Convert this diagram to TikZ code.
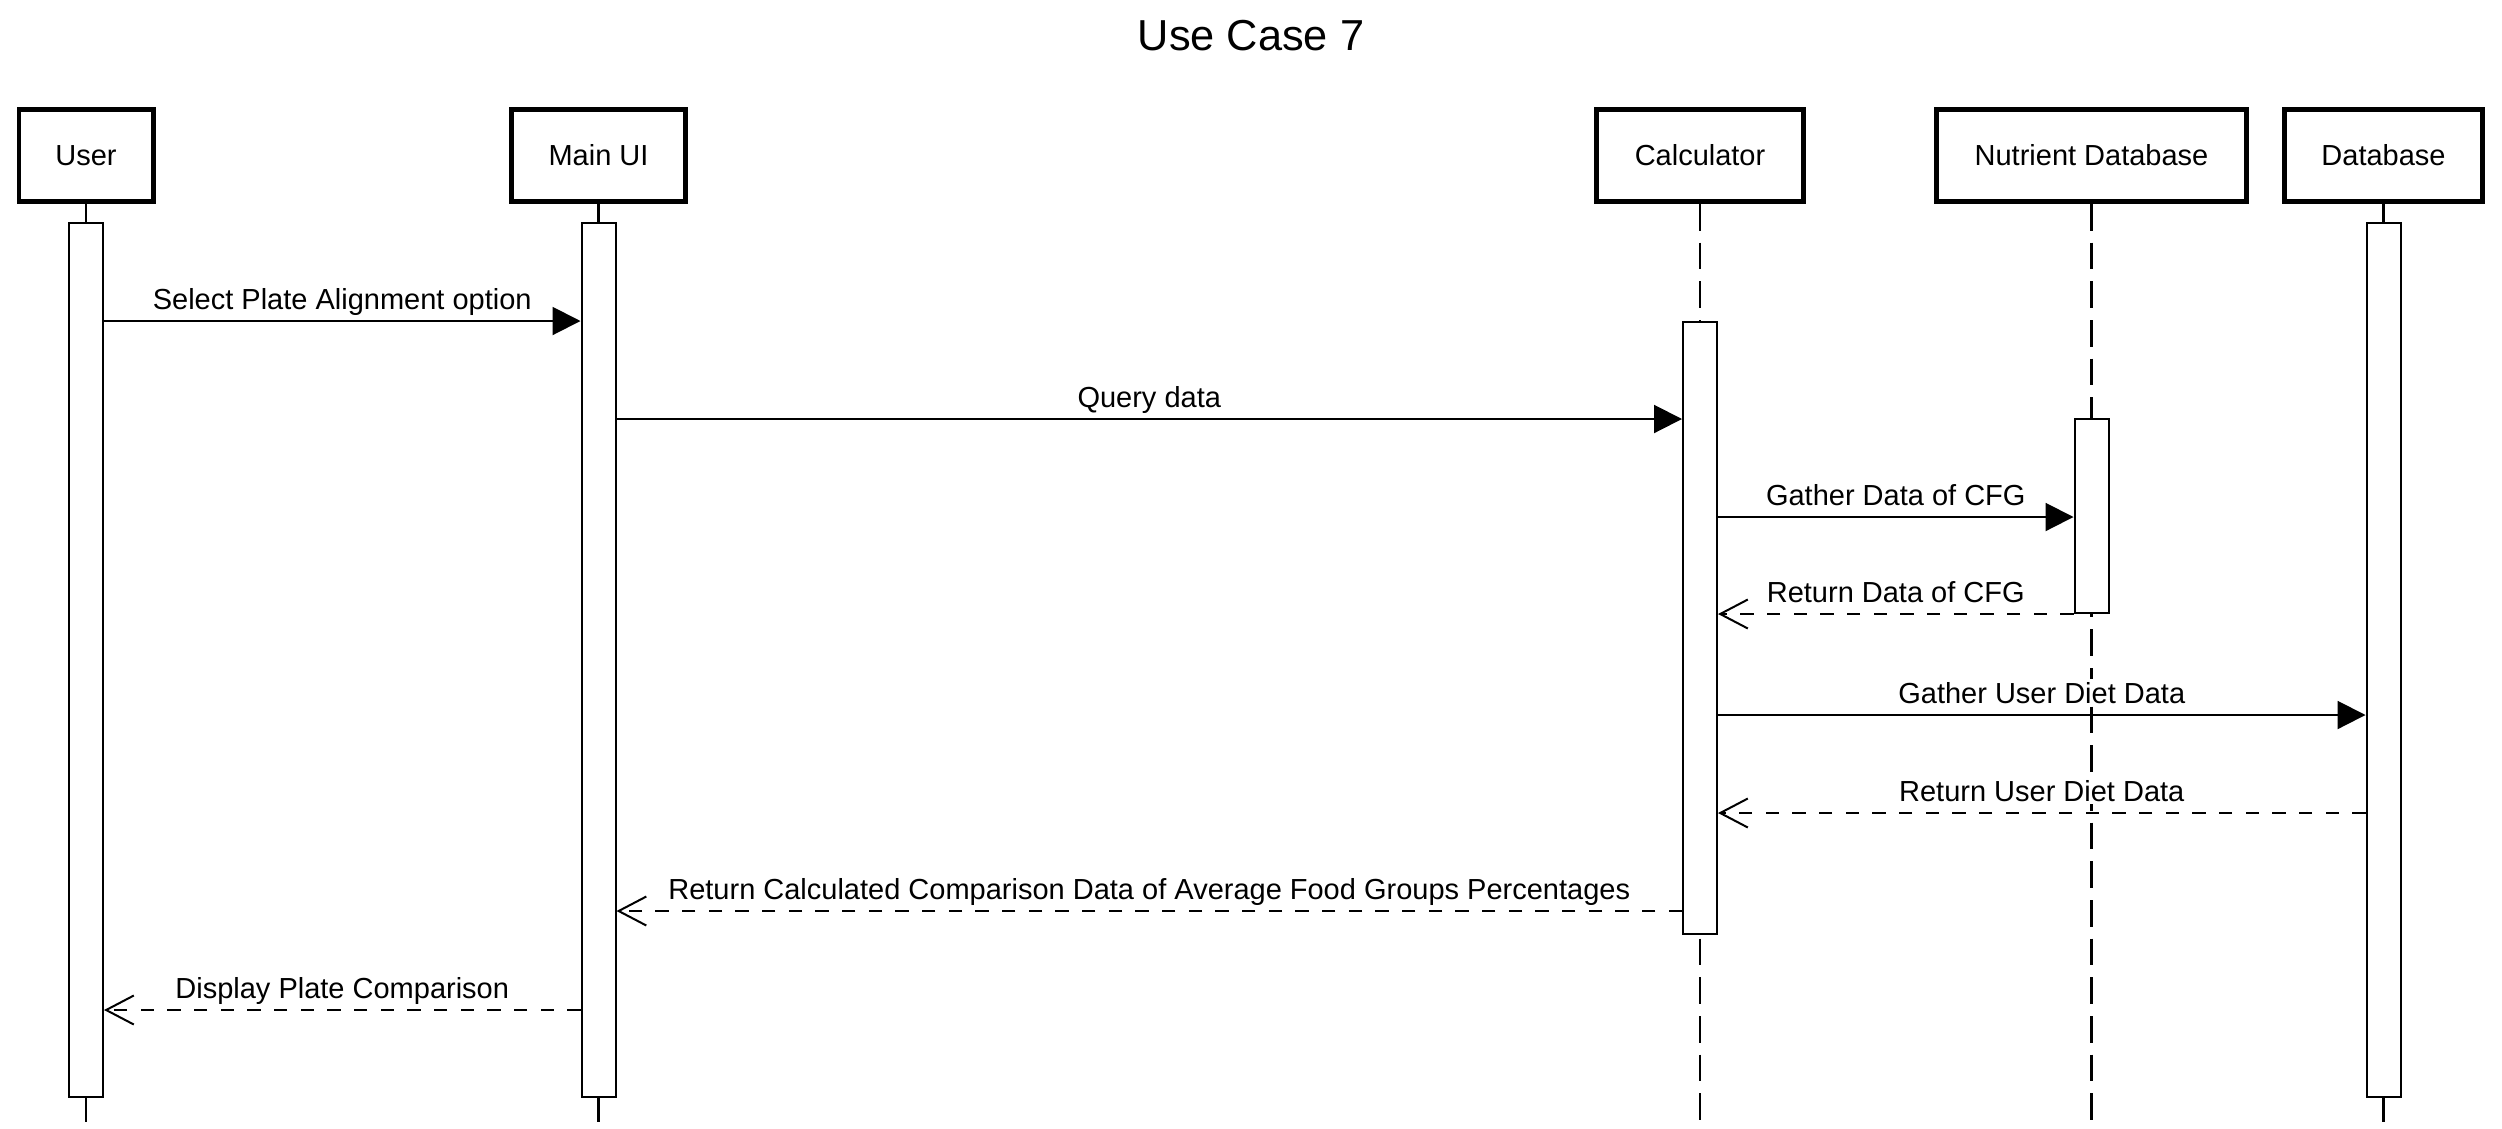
\documentclass[tikz,border=0pt]{standalone}
\usepackage{fontspec}
\setmainfont{Liberation Sans}
\usetikzlibrary{arrows.meta}

\begin{document}
\begin{tikzpicture}[x=0.3pt,y=-0.3pt,
		actor/.style={draw,line width=1.4pt,minimum height=27.7pt,inner sep=0pt,font=\fontsize{8.7}{10}\selectfont},
		bar/.style={draw,fill=white,line width=0.6pt,minimum width=10.2pt,inner sep=0pt},
		lifeline/.style={line width=0.7pt,dash pattern=on 8pt off 3.6pt},
		msg/.style={line width=0.6pt,-{Triangle[length=8.4pt,width=8.4pt]}},
		ret/.style={line width=0.6pt,dash pattern=on 4pt off 4pt,-{Straight Barb[length=8.3pt,width=8.7pt]}},
		lbl/.style={anchor=base,yshift=3.6pt,inner sep=0.8pt,fill=white,font=\fontsize{8.7}{10}\selectfont}]
			\useasboundingbox (0,0) rectangle (2502,1128);
			\node[anchor=base,font=\fontsize{13}{15}\selectfont] (T) at (1251,50) {Use Case 7};
			\node[actor,minimum width=40.3pt] (U) at (86,155.5) {User};
			\node[actor,minimum width=52.3pt] (M) at (598.5,155.5) {Main UI};
			\node[actor,minimum width=62.2pt] (C) at (1700,155.5) {Calculator};
			\node[actor,minimum width=93.1pt] (N) at (2091.5,155.5) {Nutrient Database};
			\node[actor,minimum width=59.5pt] (D) at (2383.5,155.5) {Database};
			\coordinate (bot) at (0,1122);
			\draw[line width=0.7pt] (U.south) -- (U |- bot);
			\draw[line width=0.7pt] (M.south) -- (M |- bot);
			\draw[lifeline] (C.south) -- (C |- bot);
			\draw[lifeline] (N.south) -- (N |- bot);
			\draw[line width=0.7pt] (D.south) -- (D |- bot);
			\node[bar,minimum height=262.2pt] (Ub) at (86,660) {};
			\node[bar,minimum height=262.2pt] (Mb) at (598.5,660) {};
			\node[bar,minimum height=183.6pt] (Cb) at (1700,628) {};
			\node[bar,minimum height=58.2pt] (Nb) at (2091.5,516) {};
			\node[bar,minimum height=262.2pt] (Db) at (2383.5,660) {};
			\coordinate (r1) at (0,321);
			\coordinate (r2) at (0,419);
			\coordinate (r3) at (0,517);
			\coordinate (r4) at (0,614);
			\coordinate (r5) at (0,715);
			\coordinate (r6) at (0,813);
			\coordinate (r7) at (0,911);
			\coordinate (r8) at (0,1010);
			\draw[msg] (Ub.east |- r1) -- node[lbl]{Select Plate Alignment option} (Mb.west |- r1);
			\draw[msg] (Mb.east |- r2) -- node[lbl]{Query data} (Cb.west |- r2);
			\draw[msg] (Cb.east |- r3) -- node[lbl]{Gather Data of CFG} (Nb.west |- r3);
			\draw[ret] (Nb.west |- r4) -- node[lbl]{Return Data of CFG} (Cb.east |- r4);
			\draw[msg] (Cb.east |- r5) -- node[lbl]{Gather User Diet Data} (Db.west |- r5);
			\draw[ret] (Db.west |- r6) -- node[lbl]{Return User Diet Data} (Cb.east |- r6);
			\draw[ret] (Cb.west |- r7) -- node[lbl]{Return Calculated Comparison Data of Average Food Groups Percentages} (Mb.east |- r7);
			\draw[ret] (Mb.west |- r8) -- node[lbl]{Display Plate Comparison} (Ub.east |- r8);
		\end{tikzpicture}
\end{document}
